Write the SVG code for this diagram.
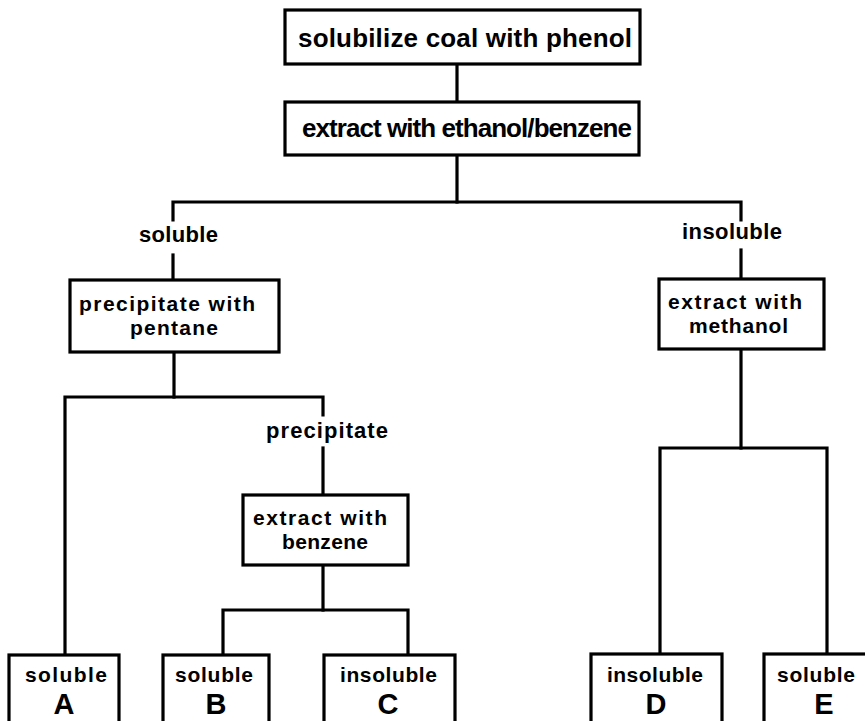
<svg xmlns="http://www.w3.org/2000/svg" width="865" height="721" viewBox="0 0 865 721">
  <style>
    .box { fill: #fff; stroke: #000; stroke-width: 3.2; }
    .wire { fill: none; stroke: #000; stroke-width: 3.2; stroke-linecap: square; stroke-linejoin: miter; }
    text { font-family: "Liberation Sans", Arial, Helvetica, sans-serif; font-weight: 700; fill: #000; }
    .big { font-size: 26px; }
    .mid { font-size: 22px; }
    .two { font-size: 21px; }
    .small { font-size: 21px; }
    .letter { font-size: 29px; text-anchor: middle; }
  </style>
  <rect width="865" height="721" fill="#fff"/>

  <!-- connectors -->
  <g id="connectors">
    <path class="wire" d="M457 64 V102"/>
    <path class="wire" d="M457 155 V202"/>
    <path class="wire" d="M173 220 V202 H741 V220"/>
    <path class="wire" d="M173 255 V280"/>
    <path class="wire" d="M741 250 V279"/>
    <path class="wire" d="M174 352 V397"/>
    <path class="wire" d="M65 655 V397 H323 V415"/>
    <path class="wire" d="M323 448 V495"/>
    <path class="wire" d="M323 565 V610"/>
    <path class="wire" d="M223 655 V610 H408 V655"/>
    <path class="wire" d="M741 349 V448"/>
    <path class="wire" d="M660 654 V448 H827 V654"/>
  </g>

  <!-- branch labels -->
  <g id="label-soluble">
    <text class="mid" x="139" y="242" textLength="79" lengthAdjust="spacing">soluble</text>
  </g>
  <g id="label-insoluble">
    <text class="mid" x="682" y="239" textLength="100" lengthAdjust="spacing">insoluble</text>
  </g>
  <g id="label-precipitate">
    <text class="mid" x="266" y="438" textLength="122" lengthAdjust="spacing">precipitate</text>
  </g>

  <!-- process steps -->
  <g id="step-solubilize">
    <rect class="box" x="285" y="10" width="355" height="54"/>
    <text class="big" x="298" y="47" textLength="334" lengthAdjust="spacing">solubilize coal with phenol</text>
  </g>
  <g id="step-extract-ethanol">
    <rect class="box" x="285" y="102" width="354" height="53"/>
    <text class="big" x="302" y="137" textLength="330" lengthAdjust="spacing">extract with ethanol/benzene</text>
  </g>
  <g id="step-pentane">
    <rect class="box" x="70" y="280" width="209" height="72"/>
    <text class="two" x="79" y="311" textLength="176" lengthAdjust="spacing">precipitate with</text>
    <text class="two" x="130" y="335" textLength="88" lengthAdjust="spacing">pentane</text>
  </g>
  <g id="step-methanol">
    <rect class="box" x="659" y="279" width="165" height="70"/>
    <text class="two" x="668" y="309" textLength="134" lengthAdjust="spacing">extract with</text>
    <text class="two" x="689" y="333" textLength="99" lengthAdjust="spacing">methanol</text>
  </g>
  <g id="step-benzene">
    <rect class="box" x="243" y="495" width="165" height="70"/>
    <text class="two" x="253" y="525" textLength="134" lengthAdjust="spacing">extract with</text>
    <text class="two" x="282" y="549" textLength="86" lengthAdjust="spacing">benzene</text>
  </g>

  <!-- fractions -->
  <g id="fraction-A">
    <rect class="box" x="9" y="655" width="110" height="80"/>
    <text class="small" x="25" y="682" textLength="82" lengthAdjust="spacing">soluble</text>
    <text class="letter" x="64" y="714">A</text>
  </g>
  <g id="fraction-B">
    <rect class="box" x="163" y="655" width="106" height="80"/>
    <text class="small" x="175" y="682" textLength="78" lengthAdjust="spacing">soluble</text>
    <text class="letter" x="216" y="714">B</text>
  </g>
  <g id="fraction-C">
    <rect class="box" x="324" y="655" width="131" height="80"/>
    <text class="small" x="340" y="682" textLength="97" lengthAdjust="spacing">insoluble</text>
    <text class="letter" x="388" y="714">C</text>
  </g>
  <g id="fraction-D">
    <rect class="box" x="591" y="654" width="131" height="80"/>
    <text class="small" x="607" y="682" textLength="96" lengthAdjust="spacing">insoluble</text>
    <text class="letter" x="656" y="714">D</text>
  </g>
  <g id="fraction-E">
    <rect class="box" x="764" y="654" width="120" height="80"/>
    <text class="small" x="777" y="682" textLength="78" lengthAdjust="spacing">soluble</text>
    <text class="letter" x="824" y="714">E</text>
  </g>
</svg>
